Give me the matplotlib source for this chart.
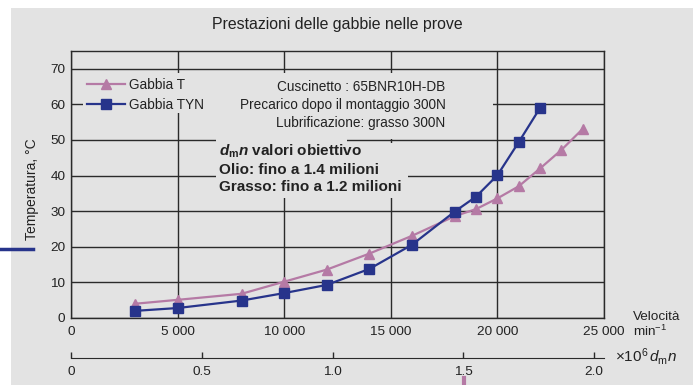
import matplotlib
matplotlib.use("Agg")
import matplotlib.pyplot as plt
from matplotlib.patches import Rectangle
from matplotlib.lines import Line2D

plt.rcParams["font.family"] = ["Liberation Sans", "DejaVu Sans"]
plt.rcParams["mathtext.fontset"] = "custom"
plt.rcParams["mathtext.rm"] = "Liberation Sans"
plt.rcParams["mathtext.it"] = "Liberation Sans:italic"
plt.rcParams["mathtext.bf"] = "Liberation Sans:bold"
plt.rcParams["mathtext.bfit"] = "Liberation Sans:italic:bold"

# --- Dati delle prove ---
velocita_T = [3000, 5000, 8000, 10000, 12000, 14000, 16000, 18000, 19000,
              20000, 21000, 22000, 23000, 24000]
temp_T = [4.0, 5.1, 6.8, 10.2, 13.6, 18.1, 23.1, 28.6, 30.6,
          33.6, 37.0, 42.0, 47.2, 53.1]

velocita_TYN = [3000, 5000, 8000, 10000, 12000, 14000, 16000, 18000, 19000,
                20000, 21000, 22000]
temp_TYN = [2.0, 2.8, 4.9, 7.0, 9.3, 13.8, 20.6, 29.9, 34.1, 40.1, 49.4, 59.0]

x_ticks = [0, 5000, 10000, 15000, 20000, 25000]
x_labels = ["0", "5 000", "10 000", "15 000", "20 000", "25 000"]
y_ticks = [0, 10, 20, 30, 40, 50, 60, 70]
dmn_ticks = [0, 0.5, 1.0, 1.5, 2.0]
dmn_labels = ["0", "0.5", "1.0", "1.5", "2.0"]
dm = 81.5  # diametro medio, mm

BG = "#e3e3e3"
ROSA = "#b57aa5"
BLU = "#27348b"
LINEA = "#2a2a2a"
TESTO = "#222222"

fig = plt.figure(figsize=(6.98, 3.85), dpi=100, facecolor="white")
fig.add_artist(Rectangle((11 / 698, 0), 682 / 698, 377 / 385,
                         transform=fig.transFigure, facecolor=BG,
                         edgecolor="none", zorder=0))

ax = fig.add_axes([71 / 698, 67 / 385, 533 / 698, 267 / 385])
ax.set_facecolor(BG)
ax.set_xlim(0, 25000)
ax.set_ylim(0, 75)
ax.set_axisbelow(True)
ax.grid(True, color=LINEA, linewidth=1.0)
for s in ax.spines.values():
    s.set_color(LINEA)
    s.set_linewidth(1.0)

ax.set_xticks(x_ticks)
ax.set_xticklabels(x_labels)
ax.set_yticks(y_ticks)
ax.tick_params(axis="both", length=0, labelsize=9.7, colors=TESTO)
ax.tick_params(axis="x", pad=6)
ax.tick_params(axis="y", pad=4)

# zone senza griglia dietro ai testi
for (x0, x1, y0, y1) in [(0.0225, 0.7917, 0.768, 0.918),
                         (0.304, 0.7917, 0.672, 0.770),
                         (0.272, 0.518, 0.449, 0.672),
                         (0.518, 0.632, 0.449, 0.655)]:
    ax.add_patch(Rectangle((x0, y0), x1 - x0, y1 - y0, transform=ax.transAxes,
                           facecolor=BG, edgecolor="none", zorder=1))

ax.plot(velocita_T, temp_T, color=ROSA, marker="^", markersize=6.5,
        linewidth=1.6, label="Gabbia T", zorder=3, clip_on=False)
ax.plot(velocita_TYN, temp_TYN, color=BLU, marker="s", markersize=6.5,
        linewidth=1.6, label="Gabbia TYN", zorder=4, clip_on=False)

leg = ax.legend(loc="upper left", bbox_to_anchor=(0.012, 0.935), frameon=False,
                fontsize=9.8, handlelength=2.8, handletextpad=0.3,
                labelspacing=0.42, borderpad=0.2)
for t in leg.get_texts():
    t.set_color(TESTO)

spec = ("Cuscinetto : 65BNR10H-DB\n"
        "Precarico dopo il montaggio 300N\n"
        "Lubrificazione: grasso 300N")
ax.text(0.703, 0.892, spec, transform=ax.transAxes, ha="right", va="top",
        fontsize=9.8, linespacing=1.35, color=TESTO, zorder=2)

obiettivo = (r"$\mathbfit{d}_{\mathbf{m}}\mathbfit{n}$ valori obiettivo" + "\n"
             "Olio: fino a 1.4 milioni\n"
             "Grasso: fino a 1.2 milioni")
ax.text(0.277, 0.658, obiettivo, transform=ax.transAxes, ha="left", va="top",
        fontsize=11, fontweight="bold", linespacing=1.3, color=TESTO,
        zorder=2)

# seconda scala: dmn
sec = ax.secondary_xaxis("bottom", functions=(lambda v: v * dm / 1e6,
                                               lambda v: v * 1e6 / dm))
sec.spines["bottom"].set_position(("outward", 28.5))
sec.spines["bottom"].set_color(LINEA)
sec.set_xticks(dmn_ticks)
sec.set_xticklabels(dmn_labels)
sec.tick_params(direction="in", length=4, width=1, color=LINEA, labelsize=9.7,
                colors=TESTO, pad=6)

fig.text(0.5 * (71 + 604) / 698, 1 - 25 / 385, "Prestazioni delle gabbie nelle prove",
         ha="center", va="center", fontsize=11.4, color=TESTO)
fig.text(32 / 698, 1 - 189 / 385, "Temperatura, °C", rotation=90,
         ha="center", va="center", fontsize=10, color=TESTO)
fig.text(633 / 698, 1 - 317 / 385, "Velocità", ha="left", va="center",
         fontsize=9.7, color=TESTO)
fig.text(633 / 698, 1 - 331 / 385, r"min$^{\mathregular{-1}}$", ha="left",
         va="center", fontsize=9.7, color=TESTO)
fig.text(615 / 698, 1 - 357 / 385, r"$\times\mathregular{10}^{\mathregular{6}}\,d_{\mathrm{m}}n$",
         ha="left", va="center", fontsize=11, color=TESTO)

# frammenti ai bordi
fig.add_artist(Line2D([0, 33 / 698], [1 - 249 / 385] * 2, color=BLU,
                      linewidth=2.5, transform=fig.transFigure))
fig.add_artist(Line2D([464 / 698] * 2, [0, 7 / 385], color=ROSA,
                      linewidth=3, transform=fig.transFigure))

fig.savefig("out.png", dpi=100, facecolor="white")
